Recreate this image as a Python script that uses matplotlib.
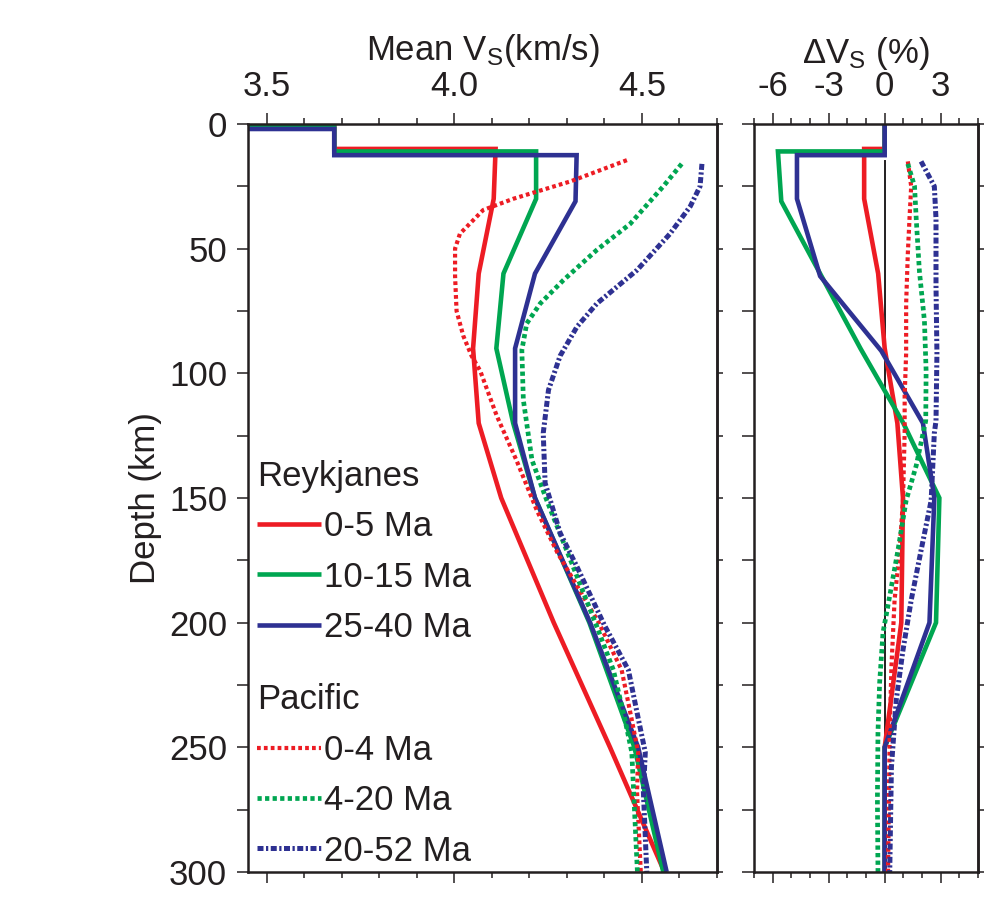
import matplotlib
matplotlib.use("Agg")
import matplotlib.pyplot as plt
from matplotlib.ticker import MultipleLocator, FixedLocator, FormatStrFormatter

plt.rcParams['font.family'] = ['Liberation Sans', 'DejaVu Sans']
plt.rcParams['mathtext.default'] = 'regular'
plt.rcParams['axes.unicode_minus'] = False

RED = '#ED1C24'
GREEN = '#00A651'
BLUE = '#2E3192'
INK = '#231F20'
FS = 25

# --- Reykjanes, mean Vs (km/s) against depth (km) ---
rk_red_depth = [0, 1, 1, 10, 10, 30, 60, 90, 120, 150, 200, 250, 300]
rk_red_vs = [3.3, 3.3, 3.68, 3.68, 4.11, 4.105, 4.065, 4.05, 4.065, 4.125, 4.265, 4.415, 4.56]
rk_green_depth = [0, 1, 1, 11, 11, 30, 60, 90, 120, 150, 200, 250, 300]
rk_green_vs = [3.3, 3.3, 3.68, 3.68, 4.218, 4.218, 4.131, 4.112, 4.157, 4.215, 4.36, 4.48, 4.557]
rk_blue_depth = [0, 2, 2, 12.5, 12.5, 31, 60, 90, 120, 150, 200, 250, 300]
rk_blue_vs = [3.3, 3.3, 3.68, 3.68, 4.326, 4.323, 4.215, 4.162, 4.162, 4.215, 4.362, 4.49, 4.566]

# --- Pacific, mean Vs ---
pac_red_depth = [14.5, 23, 30, 34.5, 44, 50, 61, 75, 85, 93, 99, 117, 135, 155, 172, 186, 200, 219, 239, 252, 268, 300]
pac_red_vs = [4.46, 4.31, 4.157, 4.077, 4.015, 4.002, 4.002, 4.006, 4.024, 4.046, 4.069, 4.113, 4.166,
              4.22, 4.275, 4.33, 4.385, 4.446, 4.473, 4.49, 4.487, 4.497]
pac_green_depth = [16, 25, 40, 50.5, 62.6, 72, 80, 90.7, 110.7, 134.8, 150.8, 175, 201.6, 219, 239, 252, 268, 300]
pac_green_vs = [4.606, 4.557, 4.469, 4.38, 4.291, 4.229, 4.193, 4.18, 4.184, 4.207, 4.246, 4.31, 4.38,
                4.424, 4.455, 4.473, 4.478, 4.488]
pac_blue_depth = [16, 25, 33, 44, 58.6, 72, 81.3, 93, 106.7, 124, 144, 164, 177.6, 201, 219, 239, 252, 268, 300]
pac_blue_vs = [4.66, 4.655, 4.629, 4.575, 4.487, 4.38, 4.327, 4.282, 4.251, 4.237, 4.242, 4.282, 4.327,
               4.40, 4.464, 4.491, 4.509, 4.504, 4.513]

# --- Reykjanes, dVs (%) ---
dv_red_depth = [0, 10, 10, 30, 60, 90, 120, 150, 200, 250, 300]
dv_red = [0, 0, -1.1, -1.1, -0.35, 0.0, 0.68, 0.98, 0.89, 0.0, 0.0]
dv_green_depth = [0, 11, 11, 31, 60, 90, 120, 150, 200, 250, 300]
dv_green = [0, 0, -5.72, -5.54, -3.46, -1.3, 1.0, 2.93, 2.75, 0.0, 0.0]
dv_blue_depth = [0, 12.5, 12.5, 30, 61, 91, 120, 150, 200, 250, 300]
dv_blue = [0, 0, -4.7, -4.7, -3.46, -0.18, 2.05, 2.66, 2.4, 0.0, 0.0]

# --- Pacific, dVs (%) ---
dvp_red_depth = [15, 25, 38, 52, 72, 92, 109, 124, 151, 171, 191, 218, 244, 300]
dvp_red = [1.24, 1.42, 1.33, 1.24, 1.15, 1.15, 1.07, 1.07, 0.98, 0.8, 0.53, 0.36, 0.27, 0.18]
dvp_green_depth = [16, 25, 38, 59, 79, 99, 119, 137, 151, 171, 193, 204, 224, 244, 271, 300]
dvp_green = [1.24, 1.6, 1.69, 1.86, 2.13, 2.22, 2.2, 1.69, 1.15, 0.71, 0.18, -0.09, -0.27, -0.36, -0.39, -0.36]
dvp_blue_depth = [15, 25, 38, 65, 92, 119, 124, 151, 171, 191, 211, 231, 258, 300]
dvp_blue = [1.95, 2.66, 2.75, 2.75, 2.8, 2.75, 2.66, 2.49, 1.95, 1.42, 0.98, 0.62, 0.36, 0.27]

rk_labels = ['0-5 Ma', '10-15 Ma', '25-40 Ma']
pac_labels = ['0-4 Ma', '4-20 Ma', '20-52 Ma']
zero_line_top = 15

# line styles
solid_kw = dict(lw=3.3, solid_capstyle='butt', solid_joinstyle='miter')
red_dot_kw = dict(lw=3.0, dashes=(0.9, 0.75))
green_dot_kw = dict(lw=3.4, dashes=(0.9, 0.7))
blue_dd_kw = dict(lw=3.6, dashes=(1.2, 0.5, 0.45, 0.5))


def style_axis(ax, left_len):
    for sp in ax.spines.values():
        sp.set_linewidth(1.8)
        sp.set_color(INK)
    ax.set_ylim(300, 0)
    ax.yaxis.set_major_locator(MultipleLocator(50))
    ax.yaxis.set_minor_locator(MultipleLocator(25))
    ax.tick_params(axis='y', which='both', direction='out', left=True, right=False,
                   length=left_len, width=1.1, color=INK, labelsize=FS, pad=7, labelcolor=INK)
    ax.tick_params(axis='x', which='both', direction='out', top=True, bottom=True,
                   labeltop=True, labelbottom=False, width=1.1, color=INK,
                   labelsize=FS, pad=7, labelcolor=INK)
    ax.tick_params(axis='x', which='major', length=8)
    ax.tick_params(axis='x', which='minor', length=4.5)
    ax.xaxis.set_label_position('top')
    sec = ax.secondary_yaxis('right')
    sec.yaxis.set_major_locator(MultipleLocator(25))
    sec.tick_params(direction='out', length=4, width=1.1, color=INK, labelright=False)
    sec.spines['right'].set_linewidth(1.8)
    sec.spines['right'].set_color(INK)


fig = plt.figure(figsize=(9.84, 9.24), dpi=100)
ax1 = fig.add_axes([0.2520, 0.0563, 0.4766, 0.8095])
ax2 = fig.add_axes([0.7663, 0.0563, 0.2276, 0.8095])

# left panel
ax1.set_xlim(3.45, 4.70)
r1, = ax1.plot(rk_red_vs, rk_red_depth, color=RED, **solid_kw)
g1, = ax1.plot(rk_green_vs, rk_green_depth, color=GREEN, **solid_kw)
b1, = ax1.plot(rk_blue_vs, rk_blue_depth, color=BLUE, **solid_kw)
r2, = ax1.plot(pac_red_vs, pac_red_depth, color=RED, **red_dot_kw)
g2, = ax1.plot(pac_green_vs, pac_green_depth, color=GREEN, **green_dot_kw)
b2, = ax1.plot(pac_blue_vs, pac_blue_depth, color=BLUE, **blue_dd_kw)

style_axis(ax1, 8)
ax1.xaxis.set_major_locator(FixedLocator([3.5, 4.0, 4.5]))
ax1.xaxis.set_minor_locator(MultipleLocator(0.1))
ax1.xaxis.set_major_formatter(FormatStrFormatter('%.1f'))
ax1.set_xlabel('Mean V$_{S}$(km/s)', fontsize=FS, color=INK, labelpad=7)
ax1.set_ylabel('Depth (km)', fontsize=FS, color=INK, labelpad=5)

leg_kw = dict(loc='upper left', frameon=False, fontsize=FS, title_fontsize=FS,
              alignment='left', handlelength=1.85, handletextpad=0.08,
              labelspacing=0.5, borderpad=0, borderaxespad=0)
leg1 = ax1.legend([r1, g1, b1], rk_labels, title='Reykjanes',
                  bbox_to_anchor=(0.0185, 0.551), **leg_kw)
ax1.add_artist(leg1)
leg2 = ax1.legend([r2, g2, b2], pac_labels, title='Pacific',
                  bbox_to_anchor=(0.0185, 0.252), **leg_kw)
for lg in (leg1, leg2):
    for t in lg.get_texts():
        t.set_color(INK)
    lg.get_title().set_color(INK)

# right panel
ax2.set_xlim(-7, 5)
ax2.axvline(0, ymin=0, ymax=1 - zero_line_top / 300, color=INK, lw=1.4, zorder=1)
ax2.plot(dv_red, dv_red_depth, color=RED, **solid_kw)
ax2.plot(dv_green, dv_green_depth, color=GREEN, **solid_kw)
ax2.plot(dv_blue, dv_blue_depth, color=BLUE, **solid_kw)
ax2.plot(dvp_red, dvp_red_depth, color=RED, **red_dot_kw)
ax2.plot(dvp_green, dvp_green_depth, color=GREEN, **green_dot_kw)
ax2.plot(dvp_blue, dvp_blue_depth, color=BLUE, **blue_dd_kw)

style_axis(ax2, 8.5)
ax2.tick_params(axis='y', labelleft=False)
ax2.xaxis.set_major_locator(FixedLocator([-6, -3, 0, 3]))
ax2.xaxis.set_minor_locator(MultipleLocator(1))
ax2.xaxis.set_major_formatter(FormatStrFormatter('%d'))
ax2.set_xlabel('ΔV$_{S}$ (%)', fontsize=FS, color=INK, labelpad=5)

fig.savefig('out.png', dpi=100)
